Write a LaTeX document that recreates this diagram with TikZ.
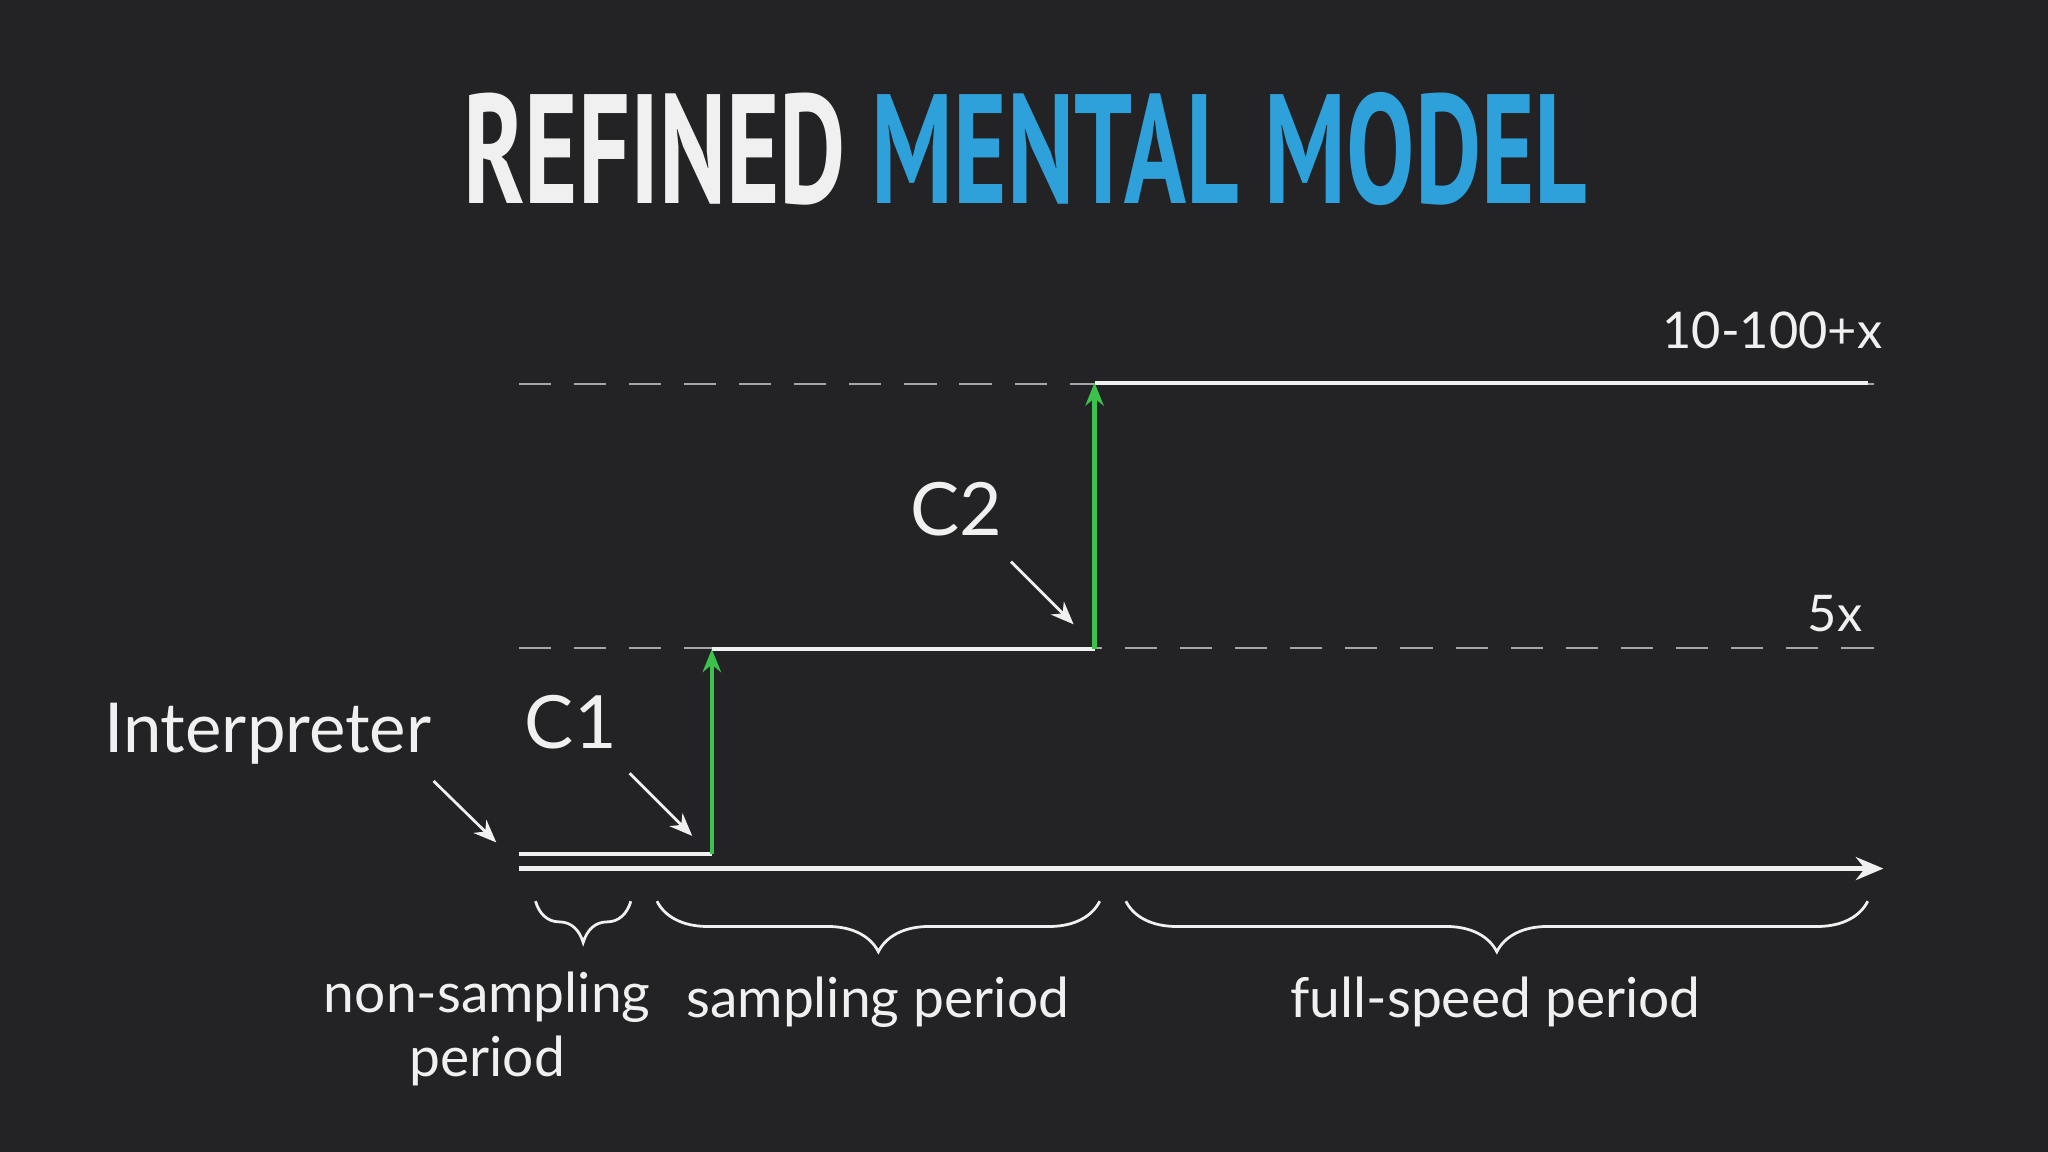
\documentclass[tikz,border=0pt]{standalone}
\usepackage{fontspec}
\setmainfont{Lato}
\newfontfamily\titlefont{PT Sans}
\usetikzlibrary{decorations.pathreplacing,arrows.meta}
\definecolor{bg}{HTML}{232325}
\definecolor{tblue}{HTML}{2EA0DA}
\definecolor{tgreen}{HTML}{3CC24C}
\definecolor{fg}{HTML}{F0F0F0}
\begin{document}
\begin{tikzpicture}[x=0.01cm,y=-0.01cm,
  lbl/.style={text=fg,inner sep=0pt,anchor=center},
  dashline/.style={draw=gray!70,dashed,dash pattern=on 7pt off 5pt,line width=0.5pt},
  stepline/.style={draw=fg,line width=0.9pt},
  rise/.style={draw=tgreen,line width=0.9pt,-{Stealth[length=5pt,width=4pt]}},
  pointer/.style={draw=fg,line width=0.6pt,-{Stealth[length=5pt,width=4pt]}},
  brc/.style={draw=fg,line width=0.6pt,decorate,decoration={brace,mirror,amplitude=9pt}}]
\fill[bg] (0,0) rectangle (1568,882);
\useasboundingbox (0,0) rectangle (1568,882);
\node[lbl] (title) at (785,114) {\resizebox{8.6cm}{0.85cm}{\titlefont\bfseries REFINED \textcolor{tblue}{MENTAL MODEL}}};
% dashed levels
\coordinate (d1a) at (397,294); \coordinate (d1b) at (1440,294);
\coordinate (d2a) at (397,496); \coordinate (d2b) at (1440,496);
\draw[dashline] (d1a) -- (d1b);
\draw[dashline] (d2a) -- (d2b);
% steps
\coordinate (s0) at (397,654); \coordinate (s1) at (545,654);
\coordinate (s2) at (545,497); \coordinate (s3) at (838,497);
\coordinate (s4) at (838,293); \coordinate (s5) at (1430,293);
\draw[stepline] (s0) -- (s1);
\draw[stepline] (s2) -- (s3);
\draw[stepline] (s4) -- (s5);
\draw[rise] (s1) -- (s2);
\draw[rise] (s3) -- (s4);
% axis
\coordinate (ax0) at (397,665); \coordinate (ax1) at (1442,665);
\draw[draw=fg,line width=1pt,-{Stealth[length=6pt,width=5pt]}] (ax0) -- (ax1);
% labels
\node[lbl,font=\fontsize{11}{13}\selectfont] (l100) at (1357,253) {10-100+x};
\node[lbl,font=\fontsize{11}{13}\selectfont] (l5) at (1405,470) {5x};
\node[lbl,font=\fontsize{16}{18}\selectfont] (c2) at (732,390) {C2};
\node[lbl,font=\fontsize{16}{18}\selectfont] (c1) at (437,553) {C1};
\node[lbl,font=\fontsize{15}{18}\selectfont] (interp) at (205,562) {Interpreter};
% pointers
\coordinate (p1a) at (332,598); \coordinate (p1b) at (380,645);
\coordinate (p2a) at (482,592); \coordinate (p2b) at (530,640);
\coordinate (p3a) at (774,430); \coordinate (p3b) at (822,478);
\draw[pointer] (p1a) -- (p1b);
\draw[pointer] (p2a) -- (p2b);
\draw[pointer] (p3a) -- (p3b);
% braces
\coordinate (b1a) at (410,690); \coordinate (b1b) at (483,690);
\coordinate (b2a) at (503,690); \coordinate (b2b) at (842,690);
\coordinate (b3a) at (862,690); \coordinate (b3b) at (1430,690);
\draw[brc] (b1a) -- (b1b);
\draw[brc,decoration={brace,mirror,amplitude=11pt}] (b2a) -- (b2b);
\draw[brc,decoration={brace,mirror,amplitude=11pt}] (b3a) -- (b3b);
\node[lbl,font=\fontsize{12}{14}\selectfont,align=center] (n1) at (373,788) {non-sampling\\period};
\node[lbl,font=\fontsize{12}{14}\selectfont] (n2) at (672,767) {sampling period};
\node[lbl,font=\fontsize{12}{14}\selectfont] (n3) at (1145,767) {full-speed period};
\end{tikzpicture}
\end{document}
